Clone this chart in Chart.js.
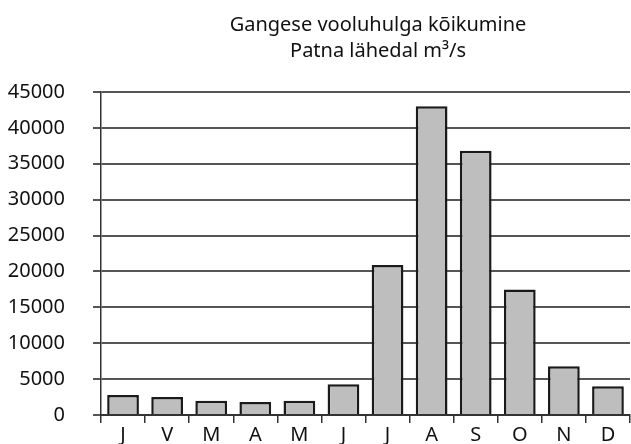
<!DOCTYPE html>
<html>
<head>
<meta charset="utf-8">
<script src="https://cdn.jsdelivr.net/npm/chart.js@4"></script>
<style>
  html, body { margin: 0; padding: 0; background: #fff; overflow: hidden; }
  #wrap { width: 631px; height: 444px; overflow: hidden; }
  canvas { display: block; }
</style>
</head>
<body>
<div id="wrap"><canvas id="grafico" width="631" height="455"></canvas></div>
<script>
// kuud ja vooluhulk (m3/s)
var kuud = ['J', 'V', 'M', 'A', 'M', 'J', 'J', 'A', 'S', 'O', 'N', 'D'];
var vooluhulk = [2800, 2500, 2000, 1800, 2000, 4300, 20900, 43000, 36800, 17500, 6800, 4000];
var pealkiri = ['Gangese vooluhulga kõikumine', 'Patna lähedal m³/s'];
var yTicks = [0, 5000, 10000, 15000, 20000, 25000, 30000, 35000, 40000, 45000];

const fondid = '"Noto Sans", "DejaVu Sans", sans-serif';

// pealkiri joonistatakse käsitsi, et see oleks sama koha peal kui originaalis
const pealkirjaPlugin = {
    id: 'pealkiri',
    afterDraw(chart) {
        const ctx = chart.ctx;
        ctx.save();
        ctx.fillStyle = '#111';
        ctx.font = '20px ' + fondid;
        ctx.textAlign = 'center';
        ctx.textBaseline = 'middle';
        ctx.fillText(pealkiri[0], 378, 25);
        ctx.fillText(pealkiri[1], 378, 51);
        ctx.restore();
    }
};

const ctx = document.getElementById('grafico');
let grafico = new Chart(ctx, {
    type: 'bar',
    data: {
        labels: kuud,
        datasets: [{
            data: vooluhulk,
            backgroundColor: '#bebebe',
            borderColor: '#1a1a1a',
            borderWidth: 2.5,
            barPercentage: 0.72,
            categoryPercentage: 1
        }]
    },
    options: {
        responsive: false,
        animation: false,
        layout: { autoPadding: false, padding: { top: 92, right: 1, left: 0, bottom: 0 } },
        plugins: {
            legend: { display: false },
            title: { display: false },
            tooltip: { enabled: false }
        },
        scales: {
            x: {
                afterFit(scale) { scale.height = 29.5; },
                grid: {
                    offset: true,
                    drawOnChartArea: false,
                    tickLength: 8,
                    color: '#333',
                    lineWidth: 1.5
                },
                border: { color: '#333', width: 2 },
                ticks: {
                    color: '#111',
                    font: { family: fondid, size: 20, lineHeight: 1 },
                    padding: 2.5
                }
            },
            y: {
                min: 0,
                max: 45000,
                afterFit(scale) { scale.width = 101; },
                afterBuildTicks(scale) {
                    scale.ticks = yTicks.map(v => ({ value: v }));
                },
                grid: {
                    color: '#555',
                    lineWidth: 2,
                    tickLength: 8
                },
                border: { color: '#333', width: 1.5 },
                ticks: {
                    color: '#111',
                    font: { family: fondid, size: 20 },
                    padding: 28,
                    callback: v => String(v)
                }
            }
        }
    },
    plugins: [pealkirjaPlugin]
});
</script>
</body>
</html>
